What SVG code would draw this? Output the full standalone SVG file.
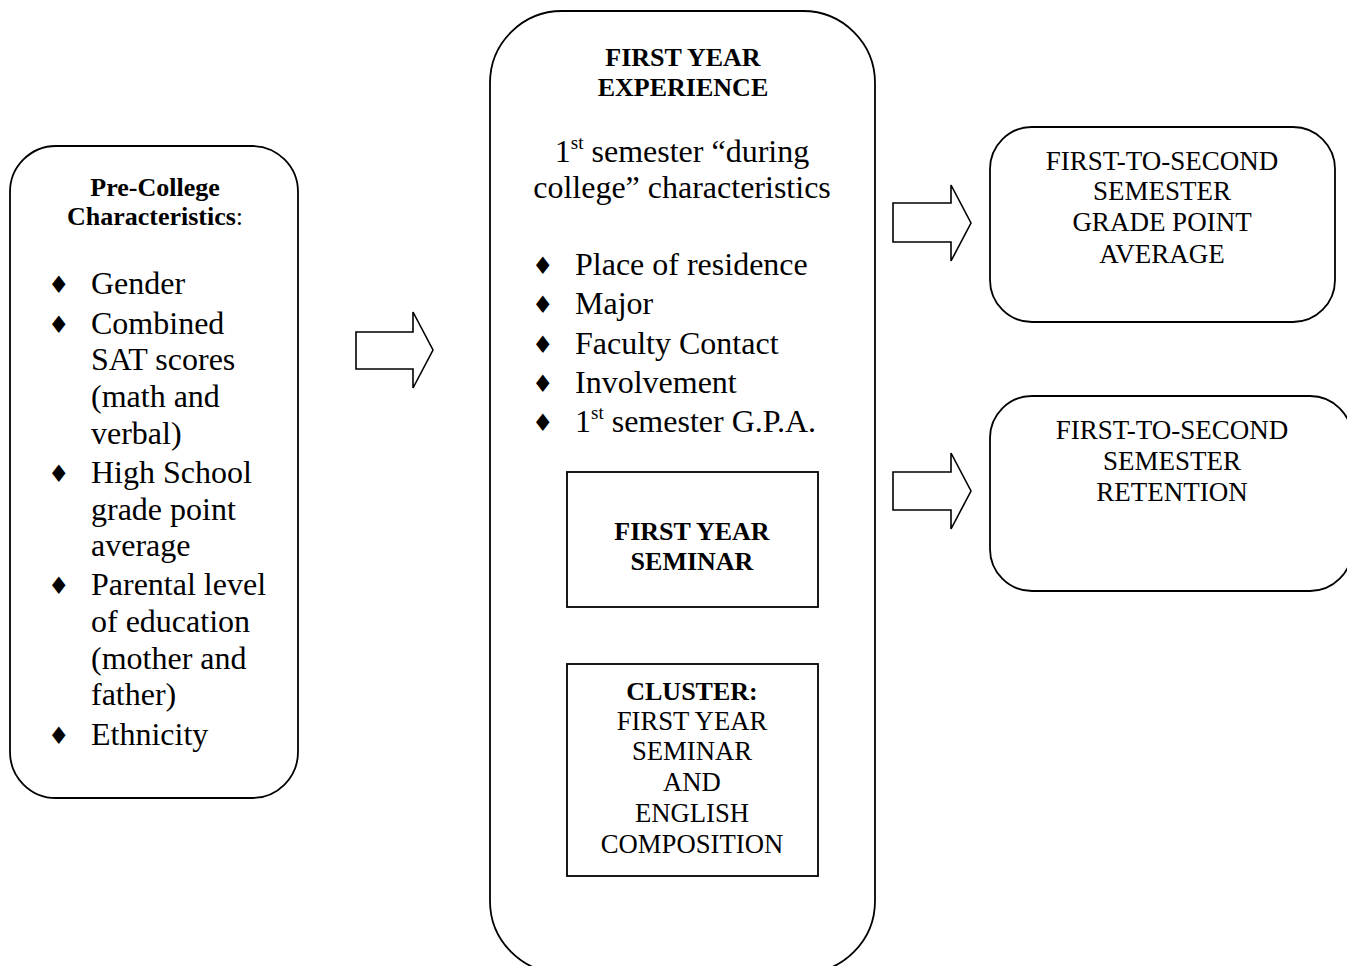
<svg xmlns="http://www.w3.org/2000/svg" width="1347" height="966" viewBox="0 0 1347 966">
<style>
.box{fill:#fff;stroke:#000;stroke-width:1.8}
.arr{fill:#fff;stroke:#000;stroke-width:1.6;stroke-linejoin:miter}
text{font-family:"Liberation Serif","Times New Roman",serif;fill:#000}
.b26{font-size:26px;font-weight:bold}
.r26{font-size:26.7px}
.r25{font-size:27px}
.r32{font-size:32px}
.bul{font-family:"DejaVu Sans",sans-serif;font-size:24px}
.sup{font-size:19px}
</style>
<rect width="1347" height="966" fill="#fff"/>
<g id="connectors">
<path class="arr" d="M356,332 H413 V312 L433,350 L413,388 V369 H356 Z"/>
<path class="arr" d="M893,203 H951 V185 L971,223 L951,261 V242 H893 Z"/>
<path class="arr" d="M893,472 H951 V453 L971,491 L951,529 V510 H893 Z"/>
</g>
<g id="pre-college">
<rect class="box" x="10" y="146" width="288" height="652" rx="46" ry="46"/>
<text class="b26" text-anchor="middle" x="155" y="196">Pre-College</text>
<text class="b26" text-anchor="middle" x="155" y="225">Characteristics<tspan font-weight="normal">:</tspan></text>
<text class="bul" x="48" y="293">♦</text>
<text class="r32" x="91" y="294">Gender</text>
<text class="bul" x="48" y="333">♦</text>
<text class="r32" x="91" y="334">Combined</text>
<text class="r32" x="91" y="370">SAT scores</text>
<text class="r32" x="91" y="407">(math and</text>
<text class="r32" x="91" y="444">verbal)</text>
<text class="bul" x="48" y="482">♦</text>
<text class="r32" x="91" y="483">High School</text>
<text class="r32" x="91" y="520">grade point</text>
<text class="r32" x="91" y="556">average</text>
<text class="bul" x="48" y="594">♦</text>
<text class="r32" x="91" y="595">Parental level</text>
<text class="r32" x="91" y="632">of education</text>
<text class="r32" x="91" y="669">(mother and</text>
<text class="r32" x="91" y="705">father)</text>
<text class="bul" x="48" y="744">♦</text>
<text class="r32" x="91" y="745">Ethnicity</text>
</g>
<g id="first-year-experience">
<rect class="box" x="490" y="11" width="385" height="962" rx="72" ry="72"/>
<text class="b26" text-anchor="middle" x="683" y="66">FIRST YEAR</text>
<text class="b26" text-anchor="middle" x="683" y="96">EXPERIENCE</text>
<text class="r32" text-anchor="middle" x="682" y="162">1<tspan class="sup" dy="-13">st</tspan><tspan dy="13"> semester “during</tspan></text>
<text class="r32" text-anchor="middle" x="682" y="198">college” characteristics</text>
<text class="bul" x="532" y="274">♦</text>
<text class="r32" x="575" y="275">Place of residence</text>
<text class="bul" x="532" y="313">♦</text>
<text class="r32" x="575" y="314">Major</text>
<text class="bul" x="532" y="353">♦</text>
<text class="r32" x="575" y="354">Faculty Contact</text>
<text class="bul" x="532" y="392">♦</text>
<text class="r32" x="575" y="393">Involvement</text>
<text class="bul" x="532" y="431">♦</text>
<text class="r32" x="575" y="432">1<tspan class="sup" dy="-13">st</tspan><tspan dy="13"> semester G.P.A.</tspan></text>
</g>
<g id="first-year-seminar">
<rect class="box" x="567" y="472" width="251" height="135"/>
<text class="b26" text-anchor="middle" x="692" y="540">FIRST YEAR</text>
<text class="b26" text-anchor="middle" x="692" y="570">SEMINAR</text>
</g>
<g id="cluster">
<rect class="box" x="567" y="664" width="251" height="212"/>
<text class="b26" text-anchor="middle" x="692" y="700">CLUSTER:</text>
<text class="r26" text-anchor="middle" x="692" y="730">FIRST YEAR</text>
<text class="r26" text-anchor="middle" x="692" y="760">SEMINAR</text>
<text class="r26" text-anchor="middle" x="692" y="791">AND</text>
<text class="r26" text-anchor="middle" x="692" y="822">ENGLISH</text>
<text class="r26" text-anchor="middle" x="692" y="853">COMPOSITION</text>
</g>
<g id="gpa-outcome">
<rect class="box" x="990" y="127" width="345" height="195" rx="42" ry="42"/>
<text class="r25" text-anchor="middle" x="1162" y="170">FIRST-TO-SECOND</text>
<text class="r25" text-anchor="middle" x="1162" y="200">SEMESTER</text>
<text class="r25" text-anchor="middle" x="1162" y="231">GRADE POINT</text>
<text class="r25" text-anchor="middle" x="1162" y="263">AVERAGE</text>
</g>
<g id="retention-outcome">
<rect class="box" x="990" y="396" width="362" height="195" rx="42" ry="42"/>
<text class="r25" text-anchor="middle" x="1172" y="439">FIRST-TO-SECOND</text>
<text class="r25" text-anchor="middle" x="1172" y="470">SEMESTER</text>
<text class="r25" text-anchor="middle" x="1172" y="501">RETENTION</text>
</g>
</svg>
